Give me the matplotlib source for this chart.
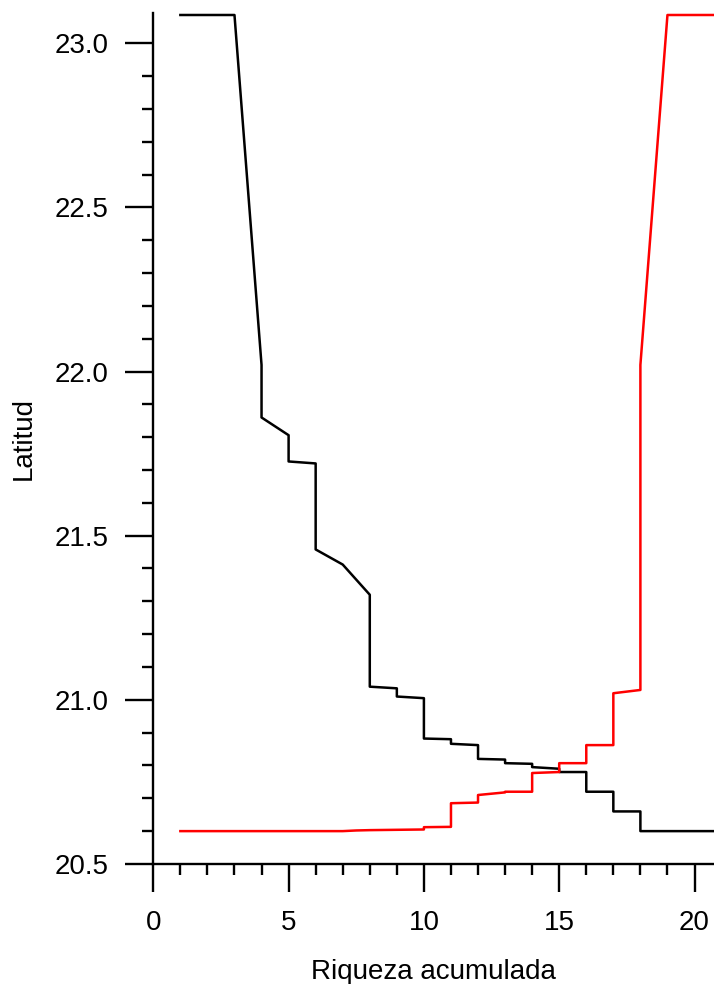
import matplotlib
matplotlib.use("Agg")
import matplotlib.pyplot as plt
from matplotlib.ticker import MultipleLocator

plt.rcParams['font.family'] = ['Liberation Sans', 'DejaVu Sans']

# curva negra (de norte a sur)
x_black = [1, 2, 3, 4, 4, 5, 5, 6, 6, 7, 8, 8, 9, 9, 10, 10, 11, 11, 12, 12,
           13, 13, 14, 14, 15, 15, 16, 16, 17, 17, 18, 18, 19, 20, 21]
y_black = [23.086, 23.086, 23.086, 22.02, 21.86, 21.806, 21.726, 21.72, 21.458,
           21.412, 21.32, 21.04, 21.035, 21.01, 21.005, 20.882, 20.88, 20.866,
           20.862, 20.82, 20.818, 20.807, 20.805, 20.795, 20.79, 20.78, 20.78,
           20.72, 20.72, 20.66, 20.66, 20.60, 20.60, 20.60, 20.60]

# curva roja (de sur a norte)
x_red = [1, 2, 3, 4, 5, 6, 7, 7.5, 8, 9, 10, 10, 11, 11, 12, 12, 13, 13, 14, 14,
         15, 15, 16, 16, 17, 17, 18, 18, 19, 20, 21]
y_red = [20.60, 20.60, 20.60, 20.60, 20.60, 20.60, 20.60, 20.602, 20.603, 20.604,
         20.605, 20.612, 20.613, 20.685, 20.687, 20.71, 20.718, 20.72, 20.72,
         20.777, 20.78, 20.807, 20.807, 20.862, 20.862, 21.02, 21.03, 22.02,
         23.086, 23.086, 23.086]

fig = plt.figure(figsize=(7.14, 9.84), dpi=100)
ax = fig.add_axes([0.2147, 0.122, 0.7853, 0.8651])

ax.plot(x_black, y_black, color='black', lw=1.8)
ax.plot(x_red, y_red, color='red', lw=1.8)

ax.set_xlim(0, 20.72)
ax.set_ylim(20.5, 23.093)
ax.xaxis.set_major_locator(MultipleLocator(5))
ax.xaxis.set_minor_locator(MultipleLocator(1))
ax.yaxis.set_major_locator(MultipleLocator(0.5))
ax.yaxis.set_minor_locator(MultipleLocator(0.1))
ax.yaxis.set_major_formatter(plt.FormatStrFormatter('%.1f'))

for s in ['top', 'right']:
    ax.spines[s].set_visible(False)
for s in ['left', 'bottom']:
    ax.spines[s].set_linewidth(1.7)

ax.tick_params(which='major', length=20, width=1.7, labelsize=20, pad=12)
ax.tick_params(which='minor', length=8, width=1.7)
ax.tick_params(axis='x', which='major', pad=13)

ax.set_xlabel('Riqueza acumulada', fontsize=20, labelpad=17)
ax.set_ylabel('Latitud', fontsize=20, labelpad=13)

fig.savefig('out.png', dpi=100)
